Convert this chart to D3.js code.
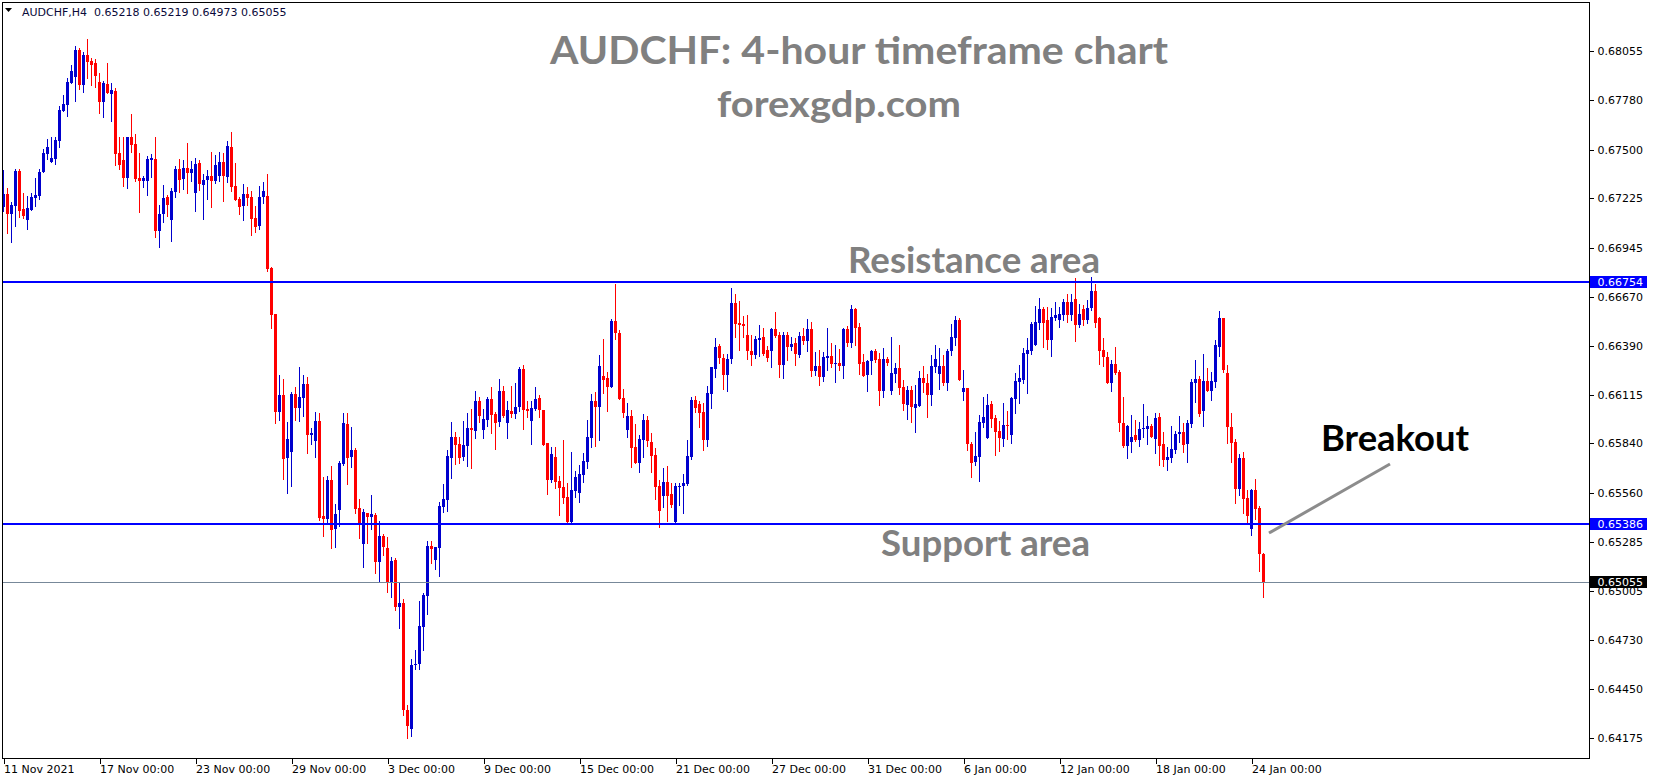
<!DOCTYPE html>
<html><head><meta charset="utf-8">
<script src="https://cdn.jsdelivr.net/npm/d3@7/dist/d3.min.js"></script>
<style>html,body{margin:0;padding:0;background:#fff;overflow:hidden}</style>
</head><body><svg id="c" width="1653" height="781"></svg>
<script>
const symbolName = "AUDCHF,H4";
const opens = [0.67178,0.67249,0.67138,0.67183,0.67379,0.67164,0.67104,0.67161,0.67228,0.67240,0.67375,0.67477,0.67432,0.67449,0.67551,0.67720,0.67754,0.67878,0.67912,0.68063,0.67867,0.68035,0.68001,0.67990,0.67882,0.67771,0.67871,0.67816,0.67831,0.67481,0.67441,0.67341,0.67569,0.67532,0.67340,0.67324,0.67324,0.67441,0.67447,0.67042,
0.67135,0.67233,0.67104,0.67263,0.67391,0.67336,0.67396,0.67370,0.67257,0.67423,0.67302,0.67329,0.67351,0.67325,0.67351,0.67430,0.67347,0.67515,0.67295,0.67223,0.67182,0.67249,0.67233,0.67114,0.67070,0.67233,0.67238,0.66833,0.66571,0.66019,0.66113,0.65759,0.65793,0.66119,0.66042,0.66098,0.66176,0.65889,0.65855,0.65967,
0.65430,0.65413,0.65634,0.65359,0.65464,0.65726,0.65950,0.65764,0.65803,0.65476,0.65274,0.65447,0.65427,0.65436,0.65172,0.65319,0.65251,0.65055,0.65184,0.64918,0.64940,0.64336,0.64228,0.64590,0.64596,0.64805,0.64980,0.65261,0.65184,0.65251,0.65483,0.65523,0.65760,0.65877,0.65837,0.65764,0.65828,0.65928,0.65913,0.66082,
0.65916,0.65975,0.66091,0.66007,0.65963,0.66137,0.65958,0.66024,0.66007,0.66046,0.66261,0.66037,0.65969,0.66037,0.66097,0.66029,0.65843,0.65634,0.65764,0.65628,0.65594,0.65538,0.65398,0.65571,0.65558,0.65664,0.65737,0.65873,0.66080,0.66048,0.66221,0.66210,0.66161,0.66532,0.66466,0.66099,0.65918,0.65997,0.65822,0.65731,
0.65859,0.65972,0.65848,0.65774,0.65599,0.65545,0.65622,0.65554,0.65398,0.65595,0.65601,0.65610,0.65765,0.66085,0.66063,0.66017,0.65859,0.66119,0.66260,0.66390,0.66323,0.66227,0.66317,0.66633,0.66520,0.66515,0.66453,0.66362,0.66341,0.66424,0.66441,0.66368,0.66364,0.66487,0.66453,0.66285,0.66453,0.66387,0.66407,0.66339,
0.66447,0.66420,0.66486,0.66251,0.66277,0.66217,0.66324,0.66334,0.66289,0.66294,0.66279,0.66486,0.66409,0.66599,0.66498,0.66300,0.66226,0.66305,0.66364,0.66317,0.66136,0.66317,0.66136,0.66234,0.66266,0.66159,0.66057,0.66142,0.66042,0.66053,0.66209,0.66183,0.66113,0.66273,0.66232,0.66277,0.66181,0.66362,0.66437,0.66538,
0.66133,0.66153,0.65837,0.65737,0.65765,0.65957,0.65871,0.66063,0.65984,0.65910,0.65867,0.65944,0.65890,0.66093,0.66189,0.66199,0.66346,0.66362,0.66396,0.66523,0.66600,0.66540,0.66425,0.66549,0.66538,0.66566,0.66639,0.66566,0.66658,0.66509,0.66600,0.66540,0.66605,0.66702,0.66549,0.66366,0.66330,0.66183,0.66289,0.66244,
0.65953,0.65825,0.65848,0.65888,0.65859,0.65921,0.65923,0.65938,0.65867,0.65989,0.65837,0.65748,0.65759,0.65805,0.65893,0.65904,0.65837,0.65952,0.66183,0.66204,0.66025,0.66193,0.66136,0.66189,0.66387,0.66549,0.66238,0.65933,0.65848,0.65582,0.65758,0.65531,0.65356,0.65577,0.65475,0.65218];
const highs = [0.67385,0.67281,0.67204,0.67389,0.67390,0.67253,0.67240,0.67253,0.67340,0.67389,0.67503,0.67558,0.67569,0.67569,0.67748,0.67809,0.67903,0.67978,0.68086,0.68072,0.68054,0.68125,0.68016,0.68012,0.67931,0.67888,0.67990,0.67875,0.67846,0.67569,0.67569,0.67569,0.67701,0.67588,0.67479,0.67351,0.67466,0.67475,0.67571,0.67187,
0.67300,0.67244,0.67281,0.67408,0.67447,0.67440,0.67538,0.67436,0.67453,0.67440,0.67361,0.67385,0.67487,0.67470,0.67487,0.67481,0.67549,0.67600,0.67425,0.67234,0.67306,0.67289,0.67266,0.67182,0.67297,0.67317,0.67362,0.66839,0.66571,0.66226,0.66204,0.65963,0.66132,0.66159,0.66272,0.66226,0.66215,0.65929,0.66019,0.66011,
0.65653,0.65656,0.65713,0.65498,0.65743,0.66011,0.66014,0.65935,0.65815,0.65526,0.65470,0.65447,0.65549,0.65449,0.65404,0.65330,0.65314,0.65200,0.65195,0.65059,0.64959,0.64364,0.64624,0.64675,0.64952,0.64995,0.65289,0.65289,0.65257,0.65509,0.65611,0.65803,0.65964,0.65905,0.65877,0.65969,0.66014,0.66035,0.66137,0.66103,
0.66033,0.66105,0.66159,0.66020,0.66205,0.66165,0.66082,0.66165,0.66184,0.66274,0.66284,0.66080,0.66082,0.66159,0.66116,0.66029,0.65843,0.65818,0.65818,0.65658,0.65860,0.65619,0.65792,0.65685,0.65718,0.65788,0.65973,0.66122,0.66133,0.66340,0.66429,0.66244,0.66542,0.66741,0.66481,0.66148,0.66071,0.66029,0.65950,0.65887,
0.66006,0.65997,0.65901,0.65816,0.65633,0.65701,0.65712,0.65618,0.65614,0.65618,0.65667,0.65859,0.66104,0.66110,0.66080,0.66066,0.66164,0.66274,0.66436,0.66402,0.66345,0.66345,0.66718,0.66684,0.66645,0.66560,0.66566,0.66453,0.66447,0.66509,0.66492,0.66390,0.66492,0.66583,0.66470,0.66470,0.66471,0.66443,0.66436,0.66471,
0.66492,0.66543,0.66526,0.66356,0.66368,0.66354,0.66494,0.66409,0.66396,0.66373,0.66494,0.66503,0.66622,0.66603,0.66520,0.66345,0.66311,0.66370,0.66373,0.66352,0.66381,0.66328,0.66443,0.66294,0.66396,0.66196,0.66166,0.66166,0.66170,0.66249,0.66279,0.66232,0.66339,0.66396,0.66377,0.66339,0.66373,0.66515,0.66560,0.66551,
0.66255,0.66153,0.65850,0.65907,0.66001,0.66104,0.66119,0.66080,0.66001,0.65967,0.66070,0.66025,0.66104,0.66238,0.66283,0.66379,0.66434,0.66526,0.66619,0.66662,0.66613,0.66611,0.66604,0.66639,0.66613,0.66658,0.66685,0.66685,0.66775,0.66628,0.66622,0.66651,0.66781,0.66741,0.66555,0.66436,0.66359,0.66310,0.66383,0.66255,
0.66102,0.65944,0.66001,0.65972,0.65961,0.66063,0.65995,0.65950,0.66012,0.66012,0.65904,0.65820,0.65940,0.65912,0.65995,0.65957,0.65972,0.66204,0.66311,0.66221,0.66345,0.66266,0.66244,0.66423,0.66588,0.66549,0.66283,0.66012,0.65865,0.65780,0.65791,0.65577,0.65582,0.65639,0.65486,0.65219];
const lows = [0.67155,0.67027,0.66976,0.67070,0.67121,0.67115,0.67051,0.67159,0.67183,0.67223,0.67372,0.67447,0.67432,0.67419,0.67517,0.67718,0.67692,0.67878,0.67777,0.67843,0.67828,0.67903,0.67865,0.67856,0.67709,0.67686,0.67818,0.67664,0.67413,0.67390,0.67294,0.67285,0.67485,0.67324,0.67149,0.67291,0.67245,0.67347,0.67008,0.66951,
0.67093,0.67127,0.66986,0.67234,0.67263,0.67280,0.67257,0.67325,0.67155,0.67274,0.67110,0.67221,0.67178,0.67314,0.67323,0.67212,0.67319,0.67266,0.67217,0.67136,0.67104,0.67187,0.67020,0.67037,0.67054,0.67200,0.66816,0.66494,0.65957,0.65974,0.65641,0.65561,0.65601,0.65974,0.65968,0.65997,0.65788,0.65838,0.65765,0.65408,
0.65319,0.65389,0.65251,0.65257,0.65376,0.65719,0.65611,0.65709,0.65449,0.65308,0.65144,0.65280,0.65359,0.65110,0.65059,0.65212,0.65003,0.64974,0.64899,0.64799,0.64307,0.64177,0.64189,0.64566,0.64567,0.64675,0.64878,0.65167,0.65131,0.65093,0.65455,0.65459,0.65647,0.65726,0.65730,0.65747,0.65713,0.65703,0.65873,0.65963,
0.65873,0.65941,0.65899,0.65811,0.65941,0.65992,0.65873,0.65988,0.65986,0.66026,0.65924,0.65992,0.65839,0.66029,0.65988,0.65833,0.65556,0.65624,0.65590,0.65438,0.65506,0.65392,0.65392,0.65539,0.65511,0.65624,0.65700,0.65822,0.65828,0.65860,0.66127,0.66026,0.66161,0.66432,0.66093,0.65992,0.65879,0.65709,0.65732,0.65680,
0.65765,0.65827,0.65680,0.65524,0.65369,0.65482,0.65403,0.65482,0.65392,0.65492,0.65448,0.65607,0.65754,0.66017,0.65935,0.65803,0.65825,0.66042,0.66217,0.66294,0.66147,0.66138,0.66294,0.66441,0.66368,0.66443,0.66317,0.66283,0.66323,0.66334,0.66341,0.66306,0.66274,0.66443,0.66217,0.66211,0.66313,0.66368,0.66283,0.66328,
0.66403,0.66362,0.66223,0.66226,0.66172,0.66192,0.66255,0.66273,0.66189,0.66255,0.66211,0.66392,0.66386,0.66396,0.66232,0.66223,0.66136,0.66232,0.66302,0.66057,0.66104,0.66283,0.66121,0.66189,0.66121,0.66029,0.65978,0.65963,0.65906,0.66051,0.66130,0.65991,0.66059,0.66245,0.66149,0.66170,0.66143,0.66339,0.66396,0.66199,
0.66086,0.65803,0.65652,0.65718,0.65630,0.65935,0.65871,0.65935,0.65775,0.65799,0.65825,0.65867,0.65844,0.66014,0.66070,0.66182,0.66127,0.66344,0.66396,0.66487,0.66387,0.66374,0.66336,0.66538,0.66500,0.66538,0.66528,0.66538,0.66419,0.66498,0.66509,0.66519,0.66594,0.66496,0.66287,0.66280,0.66183,0.66138,0.66230,0.65912,
0.65822,0.65759,0.65793,0.65854,0.65827,0.65878,0.65839,0.65878,0.65788,0.65720,0.65712,0.65690,0.65735,0.65788,0.65850,0.65793,0.65735,0.65935,0.66076,0.65997,0.65938,0.66136,0.66085,0.66161,0.66334,0.66244,0.65842,0.65735,0.65503,0.65548,0.65447,0.65390,0.65322,0.65413,0.65119,0.64973];
const closes = [0.67247,0.67138,0.67187,0.67379,0.67155,0.67127,0.67168,0.67232,0.67243,0.67373,0.67481,0.67515,0.67453,0.67554,0.67724,0.67758,0.67880,0.67944,0.68063,0.67867,0.68035,0.67997,0.67980,0.67918,0.67771,0.67876,0.67822,0.67837,0.67475,0.67413,0.67341,0.67569,0.67528,0.67336,0.67323,0.67340,0.67447,0.67453,0.67042,0.67136,
0.67227,0.67189,0.67266,0.67391,0.67330,0.67396,0.67370,0.67391,0.67417,0.67308,0.67329,0.67351,0.67325,0.67413,0.67430,0.67351,0.67521,0.67291,0.67217,0.67178,0.67249,0.67227,0.67110,0.67063,0.67233,0.67266,0.66827,0.66567,0.66019,0.66113,0.65754,0.65867,0.66119,0.66042,0.66102,0.66176,0.65889,0.65899,0.65968,0.65421,
0.65413,0.65634,0.65353,0.65442,0.65730,0.65958,0.65758,0.65803,0.65472,0.65387,0.65453,0.65427,0.65442,0.65172,0.65319,0.65257,0.65059,0.65178,0.64918,0.64940,0.64334,0.64245,0.64590,0.64594,0.64811,0.64984,0.65261,0.65246,0.65257,0.65487,0.65526,0.65769,0.65877,0.65834,0.65760,0.65834,0.65928,0.65916,0.66080,0.65995,
0.65978,0.66091,0.66003,0.65958,0.66137,0.65997,0.66029,0.66007,0.66046,0.66261,0.66029,0.66024,0.66042,0.66091,0.66029,0.65833,0.65634,0.65781,0.65624,0.65590,0.65534,0.65398,0.65577,0.65652,0.65668,0.65743,0.65877,0.66080,0.66048,0.66278,0.66201,0.66161,0.66532,0.66463,0.66093,0.66014,0.65997,0.65816,0.65732,0.65865,
0.65972,0.65855,0.65771,0.65595,0.65460,0.65622,0.65545,0.65494,0.65599,0.65599,0.65614,0.65769,0.66085,0.66040,0.66014,0.65859,0.66125,0.66272,0.66385,0.66321,0.66227,0.66319,0.66633,0.66517,0.66511,0.66503,0.66364,0.66341,0.66430,0.66436,0.66347,0.66323,0.66487,0.66447,0.66285,0.66453,0.66387,0.66402,0.66343,0.66447,
0.66420,0.66486,0.66251,0.66277,0.66217,0.66328,0.66334,0.66289,0.66294,0.66279,0.66486,0.66409,0.66599,0.66492,0.66289,0.66223,0.66305,0.66364,0.66313,0.66136,0.66317,0.66294,0.66240,0.66266,0.66155,0.66062,0.66142,0.66047,0.66062,0.66209,0.66183,0.66113,0.66277,0.66317,0.66277,0.66181,0.66362,0.66441,0.66537,0.66199,
0.66153,0.65837,0.65731,0.65769,0.65961,0.65989,0.66057,0.65980,0.65907,0.65871,0.65944,0.65940,0.66099,0.66193,0.66210,0.66351,0.66370,0.66517,0.66526,0.66600,0.66523,0.66425,0.66555,0.66566,0.66572,0.66639,0.66566,0.66639,0.66509,0.66572,0.66540,0.66605,0.66702,0.66519,0.66362,0.66330,0.66183,0.66289,0.66240,0.65953,
0.65825,0.65938,0.65876,0.65859,0.65921,0.65929,0.65938,0.65878,0.65984,0.65827,0.65748,0.65763,0.65808,0.65893,0.65904,0.65833,0.65955,0.66187,0.66204,0.66008,0.66193,0.66136,0.66193,0.66396,0.66549,0.66255,0.65933,0.65842,0.65582,0.65758,0.65526,0.65430,0.65577,0.65469,0.65215,0.65055];

const dateTickIndex = [0,24,48,72,96,120,144,168,192,216,240,264,288,312];
const dateTickLabels = ["11 Nov 2021","17 Nov 00:00","23 Nov 00:00","29 Nov 00:00","3 Dec 00:00","9 Dec 00:00","15 Dec 00:00","21 Dec 00:00","27 Dec 00:00","31 Dec 00:00","6 Jan 00:00","12 Jan 00:00","18 Jan 00:00","24 Jan 00:00"];
const priceTicks = [0.68055,0.67780,0.67500,0.67225,0.66945,0.66670,0.66390,0.66115,0.65840,0.65560,0.65285,0.65005,0.64730,0.64450,0.64175];
const levelPrices = [0.66754, 0.65386];
const levelNames = ["Resistance area", "Support area"];
const titleLines = ["AUDCHF: 4-hour timeframe chart", "forexgdp.com"];
const breakoutText = "Breakout";

const W = 1653, H = 781;
const plot = {left: 2, top: 2, right: 1589, bottom: 758};
const bull = "#0000CD", bear = "#FF0000";
const svg = d3.select("#c");
svg.append("rect").attr("width", W).attr("height", H).attr("fill", "#fff");

const n = opens.length;
const x = d3.scaleLinear().domain([0, n - 1]).range([3.5, 3.5 + 4 * (n - 1)]);
const y = d3.scaleLinear().domain([0.640626, 0.683345]).range([plot.bottom, plot.top]);
const fmt = d3.format(".5f");

// clip
svg.append("clipPath").attr("id", "pc").append("rect")
  .attr("x", plot.left).attr("y", plot.top).attr("width", plot.right - plot.left).attr("height", plot.bottom - plot.top);

const ann = svg.append("g").attr("font-family", "Lato, 'Open Sans', sans-serif").attr("font-weight", 700);
// title texts
ann.append("text").attr("x", 859).attr("y", 64).attr("text-anchor", "middle")
  .attr("font-size", 38).attr("fill", "#808080").attr("textLength", 618).attr("lengthAdjust", "spacingAndGlyphs")
  .text(titleLines[0]);
ann.append("text").attr("x", 839).attr("y", 117).attr("text-anchor", "middle")
  .attr("font-size", 36).attr("fill", "#808080").attr("textLength", 244).attr("lengthAdjust", "spacingAndGlyphs")
  .text(titleLines[1]);

const idx = d3.range(n);
const cg = svg.append("g").attr("clip-path", "url(#pc)").attr("shape-rendering", "crispEdges");
const col = i => closes[i] >= opens[i] ? bull : bear;
cg.selectAll("line.w").data(idx).join("line").attr("class", "w")
  .attr("x1", i => x(i)).attr("x2", i => x(i))
  .attr("y1", i => Math.round(y(Math.max(highs[i], opens[i], closes[i]))))
  .attr("y2", i => Math.round(y(Math.min(lows[i], opens[i], closes[i]))) + 1)
  .attr("stroke", col).attr("stroke-width", 1);
cg.selectAll("rect.b").data(idx).join("rect").attr("class", "b")
  .attr("x", i => x(i) - 1.5).attr("width", 3)
  .attr("y", i => Math.round(y(Math.max(opens[i], closes[i]))))
  .attr("height", i => Math.max(1, Math.round(y(Math.min(opens[i], closes[i]))) - Math.round(y(Math.max(opens[i], closes[i])))))
  .attr("fill", col);

// level lines
const lg = svg.append("g").attr("shape-rendering", "crispEdges");
lg.selectAll("line.lv").data(levelPrices).join("line").attr("class", "lv")
  .attr("x1", plot.left).attr("x2", plot.right)
  .attr("y1", d => Math.round(y(d))).attr("y2", d => Math.round(y(d)))
  .attr("stroke", "#0000FF").attr("stroke-width", 2);
const lastPrice = closes[n - 1];
lg.append("line").attr("x1", plot.left).attr("x2", plot.right)
  .attr("y1", Math.round(y(lastPrice)) + 0.5).attr("y2", Math.round(y(lastPrice)) + 0.5)
  .attr("stroke", "#778899").attr("stroke-width", 1);

// level annotations
ann.append("text").attr("x", 848).attr("y", 273).attr("font-size", 36).attr("fill", "#808080")
  .attr("textLength", 252).attr("lengthAdjust", "spacingAndGlyphs").text(levelNames[0]);
ann.append("text").attr("x", 881).attr("y", 556).attr("font-size", 36).attr("fill", "#808080")
  .attr("textLength", 209).attr("lengthAdjust", "spacingAndGlyphs").text(levelNames[1]);
ann.append("text").attr("x", 1321).attr("y", 451).attr("font-size", 36).attr("fill", "#000")
  .attr("textLength", 148).attr("lengthAdjust", "spacingAndGlyphs").text(breakoutText);
svg.append("line").attr("x1", 1269).attr("y1", 533).attr("x2", 1390).attr("y2", 464)
  .attr("stroke", "#8c8c8c").attr("stroke-width", 3);

// frame
svg.append("rect").attr("x", plot.left + 0.5).attr("y", plot.top + 0.5)
  .attr("width", plot.right - plot.left).attr("height", plot.bottom - plot.top)
  .attr("fill", "none").attr("stroke", "#000").attr("stroke-width", 1).attr("shape-rendering", "crispEdges");

// right axis
const ay = svg.append("g").attr("transform", `translate(${plot.right + 0.5},0)`)
  .call(d3.axisRight(y).tickValues(priceTicks).tickFormat(fmt).tickSize(4).tickPadding(4));
ay.select(".domain").remove();
ay.selectAll("text").attr("font-family", "'DejaVu Sans', Verdana, sans-serif").attr("font-size", 11).attr("fill", "#000");
ay.selectAll("line").attr("stroke", "#000").attr("shape-rendering", "crispEdges");

// price boxes
const boxes = [{p: levelPrices[0], c: "#0000FF"}, {p: levelPrices[1], c: "#0000FF"}, {p: lastPrice, c: "#000"}];
const bg = svg.append("g");
boxes.forEach(b => {
  const yy = Math.round(y(b.p));
  bg.append("rect").attr("x", plot.right + 1).attr("y", yy - 6).attr("width", 57).attr("height", 12).attr("fill", b.c);
  bg.append("text").attr("x", plot.right + 8.5).attr("y", yy).attr("dy", "0.36em")
    .attr("font-family", "'DejaVu Sans', Verdana, sans-serif").attr("font-size", 11).attr("fill", "#fff").text(fmt(b.p));
});

// bottom axis
const ax = svg.append("g").attr("transform", `translate(0,${plot.bottom + 0.5})`)
  .call(d3.axisBottom(x).tickValues(dateTickIndex).tickFormat((d, k) => dateTickLabels[k]).tickSize(5));
ax.select(".domain").remove();
ax.selectAll("line").attr("stroke", "#000").attr("shape-rendering", "crispEdges");
ax.selectAll("text").attr("text-anchor", "start").attr("x", 0).attr("y", 7).attr("dy", "0.71em")
  .attr("font-family", "'DejaVu Sans', Verdana, sans-serif").attr("font-size", 11).attr("fill", "#000");

// header
svg.append("path").attr("d", "M5,8 L12,8 L8.5,12 Z").attr("fill", "#000");
svg.append("text").attr("x", 22).attr("y", 16).attr("xml:space", "preserve").style("white-space", "pre")
  .attr("font-family", "'DejaVu Sans', Verdana, sans-serif").attr("font-size", 11).attr("fill", "#0a0a3a")
  .text(`${symbolName}  ${fmt(opens[n-1])} ${fmt(highs[n-1])} ${fmt(lows[n-1])} ${fmt(closes[n-1])}`);
</script></body></html>
